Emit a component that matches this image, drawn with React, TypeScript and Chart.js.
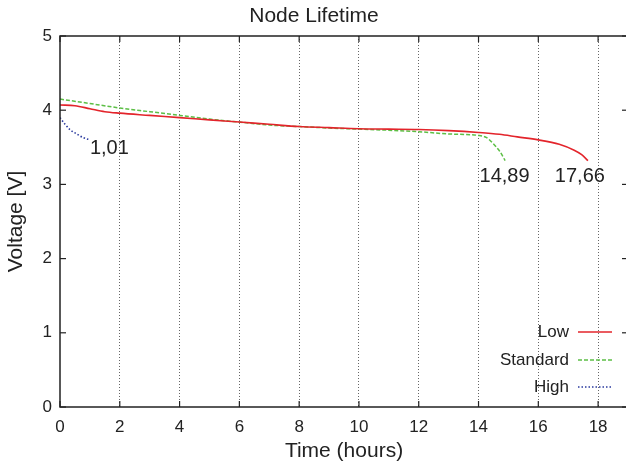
import React, { useEffect, useRef } from 'react';
import { Chart, registerables } from 'chart.js';

Chart.register(...registerables);

// ---- data ----
const lowHours = [0, 0.5, 1, 1.5, 2, 3, 4, 5, 6, 7, 8, 9, 10, 11, 12, 13, 14, 14.7, 15.3, 16, 16.7, 17.2, 17.45, 17.66];
const lowVolts = [4.07, 4.06, 4.02, 3.98, 3.96, 3.93, 3.9, 3.87, 3.84, 3.81, 3.78, 3.765, 3.75, 3.745, 3.74, 3.725, 3.7, 3.675, 3.64, 3.6, 3.54, 3.46, 3.4, 3.32];

const stdHours = [0, 1, 2, 3, 4, 5, 6, 7, 8, 9, 10, 11, 12, 13, 14, 14.27, 14.49, 14.72, 14.89];
const stdVolts = [4.15, 4.09, 4.03, 3.98, 3.93, 3.88, 3.84, 3.8, 3.78, 3.76, 3.745, 3.73, 3.71, 3.68, 3.66, 3.63, 3.55, 3.44, 3.32];

const highHours = [0, 0.17, 0.33, 0.56, 0.78, 1.01];
const highVolts = [3.9, 3.81, 3.74, 3.68, 3.63, 3.6];

const seriesNames = ['Low', 'Standard', 'High'];
const seriesColors = ['#e3242b', '#5cbf45', '#2a3a9e'];

const xTickValues = [0, 2, 4, 6, 8, 10, 12, 14, 16, 18];
const yTickValues = [0, 1, 2, 3, 4, 5];

const endLabels = ['1,01', '14,89', '17,66'];
const endLabelHours = [1.0, 14.87, 17.39];
const endLabelVolts = [3.49, 3.1, 3.1];
const endLabelAlign: CanvasTextAlign[] = ['left', 'center', 'center'];

const FONT = '"Liberation Sans", Arial, Helvetica, sans-serif';
const TEXT = '#222';

const framePlugin = {
  id: 'frame',
  afterDatasetsDraw(chart: any) {
    const { ctx, chartArea, scales } = chart;
    const { left, right, top, bottom } = chartArea;
    const x = scales.x;
    const y = scales.y;
    ctx.save();
    ctx.setLineDash([]);
    ctx.strokeStyle = '#222';
    ctx.lineWidth = 1.5;
    ctx.strokeRect(left, top, right - left, bottom - top);
    ctx.lineWidth = 1.2;
    const line = (x1: number, y1: number, x2: number, y2: number) => {
      ctx.beginPath();
      ctx.moveTo(x1, y1);
      ctx.lineTo(x2, y2);
      ctx.stroke();
    };
    xTickValues.forEach((v) => {
      const px = x.getPixelForValue(v);
      line(px, bottom, px, bottom - 6);
      line(px, top, px, top + 6);
    });
    yTickValues.forEach((v) => {
      const py = y.getPixelForValue(v);
      line(left, py, left + 6, py);
      line(right, py, right - 6, py);
    });
    ctx.restore();
  },
};

const legendPlugin = {
  id: 'customLegend',
  afterDraw(chart: any) {
    const { ctx, chartArea } = chart;
    const { right, bottom } = chartArea;
    const rows = [75, 47, 20];
    const dashes = [[], [4, 2], [1.5, 2]];
    ctx.save();
    seriesNames.forEach((name, i) => {
      const yy = bottom - rows[i];
      ctx.font = `17px ${FONT}`;
      ctx.fillStyle = TEXT;
      ctx.textAlign = 'right';
      ctx.textBaseline = 'middle';
      ctx.fillText(name, right - 59, yy);
      ctx.strokeStyle = seriesColors[i];
      ctx.lineWidth = 1.5;
      ctx.setLineDash(dashes[i]);
      ctx.beginPath();
      ctx.moveTo(right - 50, yy);
      ctx.lineTo(right - 16, yy);
      ctx.stroke();
    });
    ctx.restore();
  },
};

const endLabelPlugin = {
  id: 'endLabels',
  afterDraw(chart: any) {
    const { ctx, scales } = chart;
    ctx.save();
    ctx.font = `20px ${FONT}`;
    ctx.fillStyle = TEXT;
    ctx.textBaseline = 'middle';
    endLabels.forEach((t, i) => {
      ctx.textAlign = endLabelAlign[i];
      ctx.fillText(t, scales.x.getPixelForValue(endLabelHours[i]), scales.y.getPixelForValue(endLabelVolts[i]));
    });
    ctx.restore();
  },
};

function toPoints(xs: number[], ys: number[]) {
  return xs.map((v, i) => ({ x: v, y: ys[i] }));
}

export default function App() {
  const ref = useRef<HTMLCanvasElement | null>(null);

  useEffect(() => {
    document.body.style.margin = '0';
    const canvas = ref.current;
    if (!canvas) return;
    const chart = new Chart(canvas, {
      type: 'line',
      data: {
        datasets: [
          {
            label: seriesNames[0],
            data: toPoints(lowHours, lowVolts),
            borderColor: seriesColors[0],
            borderWidth: 1.6,
            pointRadius: 0,
            cubicInterpolationMode: 'monotone',
            fill: false,
          },
          {
            label: seriesNames[1],
            data: toPoints(stdHours, stdVolts),
            borderColor: seriesColors[1],
            borderWidth: 1.5,
            borderDash: [4, 2],
            pointRadius: 0,
            cubicInterpolationMode: 'monotone',
            fill: false,
          },
          {
            label: seriesNames[2],
            data: toPoints(highHours, highVolts),
            borderColor: seriesColors[2],
            borderWidth: 1.6,
            borderDash: [1.5, 2],
            pointRadius: 0,
            cubicInterpolationMode: 'monotone',
            fill: false,
          },
        ],
      },
      options: {
        animation: false,
        responsive: false,
        maintainAspectRatio: false,
        layout: { padding: { left: 0, right: 2, top: 0, bottom: 0 } },
        plugins: {
          legend: { display: false },
          tooltip: { enabled: false },
          title: {
            display: true,
            text: 'Node Lifetime',
            color: TEXT,
            font: { family: FONT, size: 21, weight: 'normal' },
            padding: { top: 3.5, bottom: 7.3 },
          },
        },
        scales: {
          x: {
            type: 'linear',
            min: 0,
            max: 19,
            afterBuildTicks: (s: any) => {
              s.ticks = xTickValues.map((v) => ({ value: v }));
            },
            afterFit: (s: any) => {
              s.height = 57;
            },
            ticks: {
              color: TEXT,
              font: { family: FONT, size: 17 },
              padding: 10,
              autoSkip: false,
              maxRotation: 0,
            },
            grid: {
              drawTicks: false,
              lineWidth: 1,
              color: (c: any) => (c.tick && c.tick.value === 0 ? 'rgba(0,0,0,0)' : '#666'),
            },
            border: { display: false, dash: [1, 2] },
            title: {
              display: true,
              text: 'Time (hours)',
              color: TEXT,
              font: { family: FONT, size: 21 },
              padding: { top: 0, bottom: 0 },
            },
          },
          y: {
            type: 'linear',
            min: 0,
            max: 5,
            afterBuildTicks: (s: any) => {
              s.ticks = yTickValues.map((v) => ({ value: v }));
            },
            afterFit: (s: any) => {
              s.width = 60;
            },
            ticks: {
              color: TEXT,
              font: { family: FONT, size: 17 },
              padding: 8,
            },
            grid: { display: false, drawTicks: false },
            border: { display: false },
            title: {
              display: true,
              text: 'Voltage [V]',
              color: TEXT,
              font: { family: FONT, size: 21 },
              padding: { top: 3.5, bottom: 0 },
            },
          },
        },
      },
      plugins: [framePlugin, legendPlugin, endLabelPlugin],
    } as any);
    return () => chart.destroy();
  }, []);

  return (
    <div style={{ position: 'fixed', left: 0, top: 0, width: 626, height: 464, overflow: 'hidden', background: '#fff' }}>
      <canvas ref={ref} width={630} height={464} style={{ width: 630, height: 464, display: 'block' }} />
    </div>
  );
}
